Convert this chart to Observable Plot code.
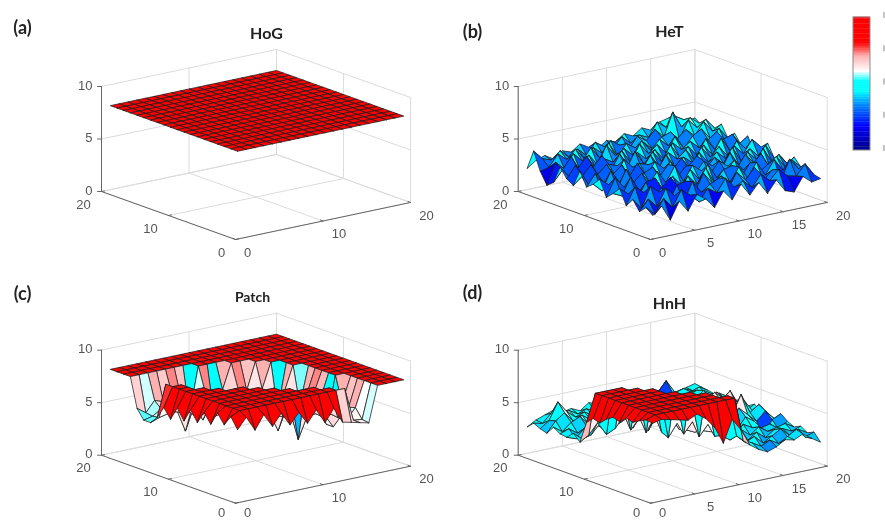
<!DOCTYPE html>
<html>
<head>
<meta charset="utf-8">
<script src="https://cdn.jsdelivr.net/npm/d3@7"></script>
<script src="https://cdn.jsdelivr.net/npm/@observablehq/plot@0.6"></script>
<style>
html,body{margin:0;padding:0;background:#fff;overflow:hidden}
svg{display:block;filter:blur(0.45px)}
</style>
</head>
<body>
<div id="chart"></div>
<script>
// rows run from y = 20 (first) down to y = 1 (last); columns x = 1..20
const hogZ = [
[8,8,8,8,8,8,8,8,8,8,8,8,8,8,8,8,8,8,8,8],[8,8,8,8,8,8,8,8,8,8,8,8,8,8,8,8,8,8,8,8],
[8,8,8,8,8,8,8,8,8,8,8,8,8,8,8,8,8,8,8,8],[8,8,8,8,8,8,8,8,8,8,8,8,8,8,8,8,8,8,8,8],
[8,8,8,8,8,8,8,8,8,8,8,8,8,8,8,8,8,8,8,8],[8,8,8,8,8,8,8,8,8,8,8,8,8,8,8,8,8,8,8,8],
[8,8,8,8,8,8,8,8,8,8,8,8,8,8,8,8,8,8,8,8],[8,8,8,8,8,8,8,8,8,8,8,8,8,8,8,8,8,8,8,8],
[8,8,8,8,8,8,8,8,8,8,8,8,8,8,8,8,8,8,8,8],[8,8,8,8,8,8,8,8,8,8,8,8,8,8,8,8,8,8,8,8],
[8,8,8,8,8,8,8,8,8,8,8,8,8,8,8,8,8,8,8,8],[8,8,8,8,8,8,8,8,8,8,8,8,8,8,8,8,8,8,8,8],
[8,8,8,8,8,8,8,8,8,8,8,8,8,8,8,8,8,8,8,8],[8,8,8,8,8,8,8,8,8,8,8,8,8,8,8,8,8,8,8,8],
[8,8,8,8,8,8,8,8,8,8,8,8,8,8,8,8,8,8,8,8],[8,8,8,8,8,8,8,8,8,8,8,8,8,8,8,8,8,8,8,8],
[8,8,8,8,8,8,8,8,8,8,8,8,8,8,8,8,8,8,8,8],[8,8,8,8,8,8,8,8,8,8,8,8,8,8,8,8,8,8,8,8],
[8,8,8,8,8,8,8,8,8,8,8,8,8,8,8,8,8,8,8,8],[8,8,8,8,8,8,8,8,8,8,8,8,8,8,8,8,8,8,8,8]];
const hetZ = [
[2.0,2.6,2.9,2.4,3.0,2.7,3.3,2.8,2.5,3.1,2.8,3.4,3.0,3.6,3.2,3.8,4.0,3.4,3.2,3.5],
[3.9,3.0,2.7,3.4,2.6,3.2,2.4,3.5,2.9,2.6,3.5,2.7,3.3,2.9,4.2,3.5,4.4,3.9,3.3,3.0],
[2.2,2.4,3.5,2.8,3.6,2.5,3.4,2.7,3.7,3.1,2.5,3.6,3.0,3.9,3.0,5.2,3.6,4.3,3.6,3.4],
[1.1,3.1,2.3,3.6,2.7,3.8,2.6,3.9,2.4,3.5,2.9,3.2,2.4,3.4,3.7,2.8,4.5,3.6,4.2,3.2],
[1.6,2.6,3.7,2.2,3.5,2.4,4.1,2.9,3.4,2.6,3.8,2.7,3.6,2.8,3.3,4.0,3.2,4.4,3.3,3.8],
[3.3,2.2,2.8,3.8,2.5,3.2,2.7,3.6,2.3,3.9,2.8,3.5,2.5,3.9,2.6,3.6,4.1,3.0,3.8,2.7],
[2.4,3.5,1.9,3.0,3.9,2.3,3.7,2.4,3.5,2.7,3.4,2.3,3.7,2.9,3.5,2.7,3.3,3.9,2.6,3.4],
[2.0,2.7,3.6,2.2,3.3,3.0,2.5,4.0,2.6,3.6,2.5,3.9,2.6,3.4,2.4,3.8,2.6,3.4,3.7,2.5],
[3.6,2.1,2.9,3.7,2.4,3.8,2.9,2.5,3.7,2.3,3.6,2.8,3.5,2.3,3.6,2.5,3.9,2.5,3.0,3.6],
[2.3,3.4,2.3,3.0,3.7,2.3,3.5,3.2,2.4,3.8,2.4,3.2,2.5,3.8,2.7,3.5,2.4,3.7,2.8,2.3],
[2.8,2.0,3.7,2.4,2.7,3.9,2.5,3.7,2.9,2.6,3.5,2.3,3.7,2.6,3.4,2.6,3.6,2.7,3.9,3.0],
[3.5,2.8,2.3,3.9,2.2,3.2,3.6,2.4,3.8,2.2,2.9,3.8,2.4,3.3,2.5,3.9,2.4,3.4,2.5,3.6],
[2.0,3.7,2.6,2.8,3.6,2.4,2.9,3.9,2.5,3.4,2.4,3.5,2.9,2.4,3.8,2.4,3.5,2.6,3.8,2.4],
[2.6,2.2,3.8,2.3,2.7,3.8,2.6,4.0,2.3,3.7,3.0,2.5,3.6,2.9,2.5,3.7,2.6,3.9,2.4,2.8],
[3.3,2.6,2.0,3.4,3.6,2.2,3.4,2.4,3.7,2.6,3.8,2.4,2.8,3.7,2.6,2.9,3.8,2.3,3.4,2.3],
[1.9,3.5,2.8,1.7,2.9,3.7,2.2,3.5,2.5,3.9,2.3,3.4,3.6,2.3,3.5,2.4,3.0,3.6,2.4,3.2],
[2.7,1.7,3.6,2.9,1.6,3.2,3.4,2.2,3.8,2.7,3.2,2.4,3.7,2.5,3.8,2.4,3.7,2.5,3.3,2.5],
[1.8,2.8,1.9,3.5,2.6,1.8,3.6,2.4,3.0,3.4,2.1,3.6,2.7,3.7,2.3,3.1,1.9,3.8,2.7,2.4],
[2.4,1.6,2.9,1.9,3.4,2.7,1.9,3.0,2.4,3.6,2.6,3.0,2.2,3.3,2.5,3.4,2.6,2.4,3.4,2.2],
[1.9,2.6,1.1,2.7,1.6,3.0,2.4,1.4,2.8,1.8,3.1,1.9,2.9,1.7,2.8,1.6,1.3,2.6,1.9,2.05]];
const patchZ = [
[8,8,8,8,8,8,8,8,8,8,8,8,8,8,8,8,8,8,8,8],
[8,8,8,8,8,8,8,8,8,8,8,8,8,8,8,8,8,8,8,8],
[8,8,8,8,8,8,8,8,8,8,8,8,8,8,8,8,8,8,8,8],
[8,8,8,8,8,8,8,8,8,8,8,8,8,8,8,8,8,8,8,8],
[5.2,4.6,5.6,5.3,5.8,5.4,3.6,8,8,8,8,8,8,8,8,8,8,8,8,8],
[4.3,4.5,5.0,4.4,5.0,4.6,4.6,5.8,3.6,5.6,8,8,8,8,8,8,8,8,8,8],
[4.3,4.6,4.8,5.0,2.8,5.0,3.5,5.0,5.2,5.2,5.8,5.4,8,8,8,8,8,8,8,8],
[5.0,8,5.2,5.0,5.3,5.0,5.2,4.9,5.3,5.0,5.2,5.0,5.6,8,8,8,8,8,8,8],
[6.2,8,8,5.2,5.0,5.3,5.0,5.2,4.9,5.2,5.0,5.3,5.0,3.6,8,8,8,8,8,8],
[5.3,8,8,5.0,5.2,5.0,5.3,5.0,5.2,4.9,5.3,5.0,5.2,5.6,8,8,8,8,8,8],
[6.6,8,8,8,5.0,5.2,5.0,3.5,5.2,5.0,5.3,4.9,5.2,5.0,4.4,8,8,8,8,8],
[5.6,8,8,8,8,5.2,5.0,5.2,5.0,5.2,4.9,5.3,5.0,5.2,5.6,8,8,8,8,8],
[6.9,8,8,8,8,8,8,5.1,5.2,5.0,3.15,5.2,4.9,5.2,5.8,8,8,8,8,8],
[5.9,8,8,8,8,8,8,8,5.2,5.0,5.3,5.0,5.2,4.9,5.5,8,8,8,8,8],
[7.1,8,8,8,8,8,8,8,8,5.1,5.0,5.2,4.9,5.1,3.5,8,8,8,8,8],
[6.2,8,8,8,8,8,8,8,8,8,3.0,5.0,5.1,4.8,3.5,5.6,8,8,8,8],
[7.5,8,8,8,8,8,8,8,8,8,8,8,5.0,5.1,4.6,5.4,8,8,8,8],
[6.6,8,8,8,8,8,8,8,8,8,8,8,8,5.0,4.6,5.6,8,8,8,8],
[7.6,8,8,8,8,8,8,8,8,8,8,8,8,8,4.8,4.7,8,8,8,8],
[6.6,7.6,6.2,7.5,6.2,7.3,6.0,7.0,5.8,6.9,5.5,6.7,5.2,5.0,4.8,4.6,8,8,8,8]];
const hnhZ = [
[2.5,3.0,3.3,3.6,3.2,3.4,3.0,3.6,3.3,3.1,3.5,3.2,3.4,3.0,3.2,3.4,3.0,2.9,3.1,3.3],
[3.1,2.9,3.7,3.3,3.6,3.1,3.4,3.0,3.5,3.3,3.0,3.4,3.1,3.2,3.5,4.5,3.2,3.4,3.0,3.2],
[2.8,3.4,5.0,3.9,3.2,3.5,3.0,3.3,3.1,3.4,3.2,3.0,3.3,3.5,1.5,3.5,3.1,3.3,3.6,3.1],
[2.6,3.6,4.2,3.2,3.6,3.0,3.4,3.1,3.5,3.0,3.3,3.5,3.0,3.3,3.2,3.0,3.4,3.7,3.2,3.0],
[3.4,2.8,3.5,3.9,2.9,3.4,3.1,3.5,3.0,3.4,3.1,3.3,3.6,3.1,3.4,3.6,3.2,3.9,3.4,2.8],
[3.0,3.3,2.7,3.2,3.6,3.0,3.5,3.0,3.4,3.1,3.5,3.0,3.2,3.5,3.0,3.3,3.8,3.3,3.7,3.2],
[2.9,2.6,3.4,3.7,3.1,4.0,3.2,3.6,3.1,3.6,3.1,3.4,3.7,3.1,3.6,4.0,3.4,4.2,3.3,2.9],
[3.5,2.8,3.0,3.9,4.4,3.6,4.2,3.4,4.0,3.4,3.8,3.2,3.6,3.9,3.4,3.8,4.6,3.8,3.5,3.3],
[2.9,3.4,4.4,3.1,3.5,4.6,3.2,4.5,3.0,4.2,3.3,3.7,3.2,4.0,3.5,4.4,4.0,4.8,3.2,3.0],
[5.0,7.6,7.6,7.6,7.6,3.4,4.4,3.0,4.5,3.2,3.7,3.1,3.8,3.3,4.2,3.6,4.6,3.7,2.9,3.4],
[5.6,7.6,7.6,7.6,7.6,7.6,3.2,4.6,3.4,4.0,3.0,4.2,3.4,3.9,3.4,4.3,3.7,4.4,3.2,2.9],
[5.4,7.6,7.6,7.6,7.6,7.6,7.6,3.3,4.6,3.2,3.8,3.2,3.9,3.5,4.4,3.6,5.3,3.4,4.0,3.0],
[6.0,7.6,7.6,7.6,7.6,7.6,7.6,3.0,4.2,3.4,3.0,3.7,3.3,4.1,3.5,4.4,3.6,2.8,3.6,2.7],
[6.4,7.6,7.6,7.6,7.6,7.6,7.6,7.6,3.4,4.4,3.4,3.1,4.0,3.3,2.7,3.8,3.2,1.5,3.0,3.4],
[6.2,7.6,7.6,7.6,7.6,7.6,7.6,7.6,7.6,3.2,4.2,3.3,3.6,2.5,3.5,3.0,2.8,3.0,2.3,2.9],
[6.8,7.6,7.6,7.6,7.6,7.6,7.6,7.6,7.6,7.6,3.3,3.9,3.0,3.4,2.7,3.3,2.7,2.9,3.1,2.6],
[6.6,7.6,7.6,7.6,7.6,7.6,7.6,7.6,7.6,7.6,3.6,3.0,3.4,2.6,3.2,2.5,3.1,3.0,2.6,2.9],
[7.0,7.6,7.6,7.6,7.6,7.6,7.6,7.6,7.6,7.6,7.6,3.6,2.8,3.2,2.4,2.9,3.4,2.6,3.0,2.5],
[7.3,7.6,7.6,7.6,7.6,7.6,7.6,7.6,7.6,7.6,7.6,3.4,3.0,2.5,2.9,2.4,2.9,3.4,2.5,2.8],
[7.2,7.4,7.2,7.0,6.8,7.2,6.6,5.6,3.9,6.0,4.8,3.2,2.6,2.2,2.5,3.0,2.8,3.2,2.6,2.05]];

const titles = ["HoG","HeT","Patch","HnH"];
const panelTags = ["(a)","(b)","(c)","(d)"];
const zTicks = [0,5,10];
const wideTicks = [0,10,20];
const fineTicks = [0,5,10,15,20];
const barTicks = [0,2,4,6,8];
const colorStops = [0,1.4,2.6,3.5,4.1,4.7,5.6,6.4,8];
const colorRange = ["#00008c","#0000ff","#0080ff","#00ffff","#00ffff","#ffffff","#ffb0b0","#ff0000","#ff0000"];

// layout of the four oblique views (pixels on the page)
const views = [
  {z:hogZ,  o:[235,239],   xv:[175,-37],   yv:[-134,-48],  xt:wideTicks, yt:wideTicks, title:[266,33,16],  tag:[22,28],  rim:0,  tone:0,   lift:0},
  {z:hetZ,  o:[650,239],   xv:[176.7,-37], yv:[-132.3,-48],xt:fineTicks, yt:wideTicks, title:[669,31,16],  tag:[472,32], rim:0,  tone:0,   lift:0},
  {z:patchZ,o:[235,502.7], xv:[175,-37],   yv:[-134,-48],  xt:wideTicks, yt:wideTicks, title:[252,297,14], tag:[22,294], rim:11, tone:0,   lift:3.5},
  {z:hnhZ,  o:[650,502.7], xv:[176.7,-37], yv:[-132.3,-48],xt:fineTicks, yt:wideTicks, title:[669,303,16], tag:[472,293],rim:10, tone:0.5, lift:3.5}
];
const zUnit = 10.5;
const project = (v,x,y,z) => [
  v.o[0] + (x/20)*v.xv[0] + (y/20)*v.yv[0],
  v.o[1] + (x/20)*v.xv[1] + (y/20)*v.yv[1] - z*zUnit
];

// surface quads, far to near
const quads = [];
views.forEach((v,p) => {
  const at = (i,j) => v.z[20-j][i-1];
  for (let i=19;i>=1;i--) for (let j=19;j>=1;j--) {
    const inner = (j===1 && i<=v.rim) || (i===1 && j<=v.rim);
    let c = inner ? at(i+1,j+1) : at(i,j);
    // the far side of a raised block takes the colour of the low ground behind it
    if (v.rim && !inner && at(i,j) >= 7 && at(i+1,j+1) < 7) c = at(i+1,j+1);
    if (c < 6) c += v.tone;
    const id = `${p}-${i}-${j}`;
    [[i,j],[i+1,j],[i+1,j+1],[i,j+1],[i,j]].forEach(([a,b]) => {
      const [px,py] = project(v,a,b,at(a,b));
      quads.push({id,px,py,c});
    });
  }
});

// axes box
const grid = [], front = [], xLabels = [], yLabels = [], zLabels = [];
const seg = (arr,v,key,a,b) => {
  const p = project(v,...a), q = project(v,...b);
  arr.push({id:key+"a",px:p[0],py:p[1]},{id:key+"a",px:q[0],py:q[1]});
};
views.forEach((v,p) => {
  v.xt.forEach((t,n) => {
    seg(grid,v,`${p}xw${n}`,[t,20,0],[t,20,10]);
    seg(grid,v,`${p}xf${n}`,[t,0,0],[t,20,0]);
    const q = project(v,t,0,0);
    const l = t===0 ? [12,13-v.lift] : [16,13];
    xLabels.push({px:q[0]+l[0],py:q[1]+l[1],t});
    front.push({id:`${p}xt${n}`,px:q[0],py:q[1]},{id:`${p}xt${n}`,px:q[0]-2.5,py:q[1]-1});
  });
  v.yt.forEach((t,n) => {
    seg(grid,v,`${p}yw${n}`,[20,t,0],[20,t,10]);
    seg(grid,v,`${p}yf${n}`,[0,t,0],[20,t,0]);
    const q = project(v,0,t,0);
    const l = t===0 ? [-14,13-v.lift] : [-18,13];
    yLabels.push({px:q[0]+l[0],py:q[1]+l[1],t});
    front.push({id:`${p}yt${n}`,px:q[0],py:q[1]},{id:`${p}yt${n}`,px:q[0]+3,py:q[1]-0.6});
  });
  zTicks.forEach((t,n) => {
    seg(grid,v,`${p}zl${n}`,[0,20,t],[20,20,t]);
    seg(grid,v,`${p}zr${n}`,[20,20,t],[20,0,t]);
    const q = project(v,0,20,t);
    zLabels.push({px:q[0]-9,py:q[1]-1,t});
    front.push({id:`${p}zt${n}`,px:q[0],py:q[1]},{id:`${p}zt${n}`,px:q[0]-4,py:q[1]});
  });
  seg(front,v,`${p}ax`,[0,0,0],[20,0,0]);
  seg(front,v,`${p}ay`,[0,0,0],[0,20,0]);
  seg(front,v,`${p}az`,[0,20,0],[0,20,10]);
});

const barValues = d3.range(0,8,0.1);
const barY = v => 150 - v*(133/8);
const barTickY = v => 148 - v*(133/8);

const plot = Plot.plot({
  width:885, height:520, margin:0,
  x:{type:"identity",axis:null}, y:{type:"identity",axis:null},
  color:{type:"linear",domain:colorStops,range:colorRange},
  style:{background:"#fff"},
  marks:[
    Plot.line(grid,{x:"px",y:"py",z:"id",stroke:"#dcdcdc",strokeWidth:1}),
    Plot.line(front,{x:"px",y:"py",z:"id",stroke:"#666",strokeWidth:1}),
    Plot.line(quads,{x:"px",y:"py",z:"id",fill:"c",stroke:"#1c1c1c",strokeWidth:0.75,strokeLinejoin:"round"}),
    Plot.text(xLabels,{x:"px",y:"py",text:d=>String(d.t),fontSize:13,fill:"#555",fontFamily:"Liberation Sans"}),
    Plot.text(yLabels,{x:"px",y:"py",text:d=>String(d.t),fontSize:13,fill:"#555",fontFamily:"Liberation Sans"}),
    Plot.text(zLabels,{x:"px",y:"py",text:d=>String(d.t),textAnchor:"end",fontSize:13,fill:"#555",fontFamily:"Liberation Sans"}),
    Plot.text(views,{x:d=>d.title[0],y:d=>d.title[1],text:(d,i)=>titles[i],fontSize:d=>d.title[2],fontWeight:"bold",fill:"#222",fontFamily:"Lato"}),
    Plot.text(views,{x:d=>d.tag[0],y:d=>d.tag[1],text:(d,i)=>panelTags[i],fontSize:18,fontWeight:"bold",fill:"#222",fontFamily:"Lato"}),
    Plot.rect(barValues,{x1:()=>853,x2:()=>870,y1:d=>barY(d+0.12),y2:d=>barY(d),fill:d=>d}),
    Plot.rect([0],{x1:()=>853,x2:()=>870,y1:()=>barY(0),y2:()=>barY(8),fill:"none",stroke:"#8a8a8a",strokeWidth:1}),
    Plot.rect(barTicks,{x1:()=>883,x2:()=>885,y1:d=>barTickY(d)-3,y2:d=>barTickY(d)+3,fill:"#c4c4c4",stroke:"none"})
  ]
});
document.getElementById("chart").appendChild(plot);
</script>
</body>
</html>
